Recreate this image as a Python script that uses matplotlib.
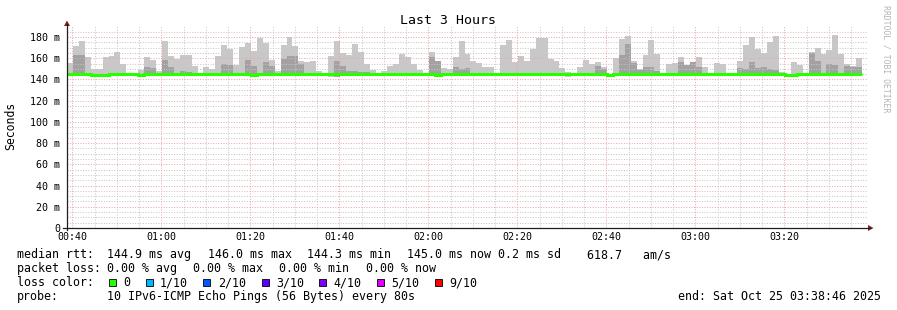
import numpy as np
import matplotlib
matplotlib.use('Agg')
import matplotlib.pyplot as plt
from matplotlib.lines import Line2D
from matplotlib.patches import Polygon, Rectangle

W, H = 897, 310
nan = np.nan

# ---------------- data ----------------
start_min = 38 + 46 / 60          # 00:38:46
step_min = 80 / 60                # 80 s steps
span_min = 180

rtt_max = [155.5, 171.5, 176, 161, 150, 150, 161, 162, 165.6, 155,
           145.5, 145.5, 148.8, 161, 158, 147.8, 176, 161.7, 159, 163.4,
           163.4, 152.5, 145.5, 151.5, 150, 161.7, 172, 168.5, 153.5, 171,
           174.6, 166.8, 179.5, 174.6, 158.3, 148, 172, 180.3, 171.5, 157.5,
           156.5, 157.4, 147.6, 145.5, 162, 176.2, 165, 163, 173.4, 165.9,
           155, 149, 145.5, 148, 152.5, 154.4, 164, 161, 155, 149,
           145.5, 165.9, 157.4, 151, 150, 161, 176, 164, 157.4, 155.5,
           151.6, 151.6, 145.5, 172.4, 177, 156.5, 162, 157.4, 168.6, 178.7,
           178.7, 159.5, 157.4, 151, 147.3, 145.5, 151.6, 158.3, 155, 156.5,
           151.6, 145.5, 160, 178, 181, 157, 150, 163, 177, 164,
           145.5, 155, 155.5, 161, 154, 156.5, 161, 152, 145.5, 155.5,
           155, 145.5, 145.5, 157.4, 172.4, 180, 168.6, 165, 175.5, 181,
           147.3, 145.5, 156.5, 154, 145.5, 165.9, 169.5, 164, 167.6, 182,
           164, 154.4, 152.5, 160]

rtt_dark = [nan, 163, 163, nan, nan, nan, nan, nan, nan, nan,
            nan, nan, nan, 152, 150.5, nan, 158.3, 151.5, nan, 148,
            147, nan, nan, nan, nan, nan, 154.5, 153.5, nan, nan,
            158.3, 152.4, nan, 156.5, 152.4, nan, 159, 162, 162, 155,
            nan, nan, nan, nan, nan, 157.4, 152.5, 148, 148, 147,
            147, nan, nan, nan, nan, nan, nan, nan, nan, nan,
            nan, 161.5, 157.4, nan, nan, 152, 150, 151, nan, nan,
            nan, nan, nan, nan, nan, nan, nan, nan, nan, nan,
            nan, nan, nan, nan, nan, nan, nan, nan, nan, 153,
            150, nan, nan, 163, 173.4, 155.2, 149, 152, 152, 148,
            nan, nan, nan, 156.5, 154, 156.5, 151.5, nan, nan, nan,
            nan, nan, nan, 151, 150, 156.5, 151, 152, 150, 149,
            nan, nan, nan, nan, nan, 165, 157.4, nan, 155, 154,
            nan, 153, 152, 152]

rtt_min = [143.6, 143.6, 143.6, 143.6, 143.6, 143.6, 143.6, 143.6, 143.6, 143.6,
           143.6, 143.6, 142.9, 143.6, 143.6, 143.6, 143.6, 142.8, 142.8, 143.6,
           143.6, 143.6, 143.6, 143.6, 143.6, 143.6, 143.6, 143.6, 143.6, 143.6,
           143.6, 143.6, 143.6, 143.6, 143.6, 143.6, 143.6, 143.6, 143.6, 143.6,
           143.6, 143.6, 143.6, 143.6, 142.6, 142.6, 143.6, 143.6, 143.6, 143.6,
           143.6, 143.6, 143.6, 143.6, 142.8, 142.8, 143.6, 143.6, 143.6, 143.6,
           143.6, 143.6, 143.0, 143.6, 143.6, 143.6, 143.6, 143.6, 143.6, 142.8,
           143.6, 143.6, 143.6, 143.6, 143.6, 143.6, 143.6, 143.6, 143.6, 143.6,
           143.6, 143.6, 143.6, 143.6, 142.6, 143.6, 143.6, 143.6, 143.6, 143.6,
           143.6, 143.6, 143.6, 143.6, 143.6, 143.6, 143.6, 143.6, 143.6, 143.6,
           143.6, 143.6, 143.6, 143.6, 143.6, 143.6, 143.6, 143.6, 143.6, 142.8,
           142.8, 143.6, 143.6, 143.6, 143.6, 143.6, 143.6, 143.6, 143.6, 143.6,
           142.8, 143.6, 143.6, 143.6, 143.6, 143.6, 143.6, 143.6, 143.6, 143.6,
           143.6, 143.6, 143.6, 143.6]

rtt_median = [144.9, 145.6, 145.6, 144.9, 144.6, 144.6, 144.6, 144.9, 144.9, 144.9,
              144.9, 144.9, 144.6, 144.9, 144.9, 144.9, 144.9, 144.9, 144.9, 144.9,
              144.9, 144.9, 144.9, 144.9, 144.9, 144.9, 144.9, 144.9, 144.9, 144.9,
              144.9, 144.6, 144.9, 144.9, 144.9, 144.9, 144.9, 144.9, 144.9, 144.9,
              144.9, 144.9, 144.9, 144.9, 144.9, 144.9, 144.9, 144.9, 144.9, 144.9,
              144.9, 144.9, 144.9, 144.9, 144.9, 144.9, 144.9, 144.9, 144.9, 144.9,
              144.9, 144.9, 144.6, 144.9, 144.9, 144.9, 144.9, 144.9, 144.9, 144.9,
              144.9, 144.9, 144.9, 144.9, 144.9, 144.9, 144.9, 144.9, 144.9, 144.9,
              144.9, 144.9, 144.9, 144.9, 144.9, 144.9, 144.9, 144.9, 144.9, 144.9,
              144.9, 144.6, 144.9, 144.9, 144.9, 144.9, 144.9, 144.9, 144.9, 144.9,
              144.9, 144.9, 144.9, 144.9, 144.9, 144.9, 144.9, 144.9, 144.9, 144.9,
              144.9, 144.9, 144.9, 144.9, 144.9, 144.9, 144.9, 144.9, 144.9, 144.9,
              144.9, 144.6, 144.6, 144.9, 144.9, 144.9, 144.9, 144.9, 144.9, 144.9,
              144.9, 144.9, 144.9, 145.0]

y_ticks = [0, 20, 40, 60, 80, 100, 120, 140, 160, 180]
y_tick_labels = ['0', '20 m', '40 m', '60 m', '80 m', '100 m', '120 m',
                 '140 m', '160 m', '180 m']
x_ticks = [40, 60, 80, 100, 120, 140, 160, 180, 200]
x_tick_labels = ['00:40', '01:00', '01:20', '01:40', '02:00', '02:20',
                 '02:40', '03:00', '03:20']

legend_rows = [
    [(16.7, 'median rtt:'), (107.3, '144.9 ms avg'), (208.3, '146.0 ms max'),
     (307.3, '144.3 ms min'), (407.3, '145.0 ms now'), (498.3, '0.2 ms sd'),
     (586.7, '618.7   am/s')],
    [(16.7, 'packet loss:'), (107.3, '0.00 % avg'), (193.3, '0.00 % max'),
     (279.3, '0.00 % min'), (365.7, '0.00 % now')],
]
loss_labels = ['0', '1/10', '2/10', '3/10', '4/10', '5/10', '9/10']
loss_colors = ['#26ff00', '#00b8ff', '#0059ff', '#5e00ff', '#7e00ff', '#dd00ff', '#ff0000']
loss_box_x = [109, 145.7, 203.3, 261.7, 319.3, 377.3, 435]
loss_text_x = [123.3, 160, 218.3, 276.7, 333.3, 391.7, 449.5]

# ---------------- figure ----------------
MONO = 'DejaVu Sans Mono'
fig = plt.figure(figsize=(W / 100, H / 100), dpi=100)
fig.patch.set_facecolor('white')

ax_left, ax_right, ax_bot, ax_top = 67, 868, 228, 26.4
ax = fig.add_axes([ax_left / W, 1 - ax_bot / H, (ax_right - ax_left) / W,
                   (ax_bot - ax_top) / H])
ax.set_facecolor('white')
ax.set_xlim(start_min, start_min + span_min)
ax.set_ylim(0, 190)
for s in ax.spines.values():
    s.set_visible(False)

n = len(rtt_max)
edges = start_min + step_min * np.arange(n + 1)
lo = np.array(rtt_min, dtype=float)
hi = np.array(rtt_max, dtype=float)
dk = np.array(rtt_dark, dtype=float)
dk = np.where(np.isnan(dk), lo, dk)   # no inner band -> zero height

ax.stairs(hi, edges, baseline=lo, fill=True, color='#c8c8c8', lw=0,
          antialiased=False, zorder=2)
ax.stairs(dk, edges, baseline=lo, fill=True, color='#a2a2a2', lw=0,
          antialiased=False, zorder=2.1)

# grid (dotted, drawn over the smoke, like rrdtool)
minor_c = '#c6c6c6'
major_c = '#efa4a4'
gkw = dict(lw=0.72, ls=(0, (1, 1.6)), antialiased=True)
for v in range(5, 190, 5):
    if v % 20 == 0:
        continue
    ax.axhline(v, color=minor_c, zorder=2.5, **gkw)
for v in y_ticks[1:]:
    ax.axhline(v, color=major_c, zorder=2.6, **gkw)
for m in range(40, 220, 5):
    if m % 20 == 0:
        continue
    ax.axvline(m, color=minor_c, zorder=2.5, **gkw)
for m in x_ticks:
    ax.axvline(m, color=major_c, zorder=2.6, **gkw)

ax.stairs(rtt_median, edges, baseline=None, color='#26ff00', lw=2.2, zorder=3)

ax.set_yticks(y_ticks)
ax.set_yticklabels(y_tick_labels, family=MONO, fontsize=7.2)
ax.set_xticks(x_ticks)
ax.set_xticklabels(x_tick_labels, family=MONO, fontsize=7.2)
ax.tick_params(axis='y', length=0, pad=5.0)
ax.tick_params(axis='x', length=0, pad=3.0)


def P(x, y):
    return (x / W, 1 - y / H)


axis_c = '#1f1f1f'
arrow_c = '#801f1f'
fig.add_artist(Line2D([67 / W, 67 / W], [1 - 230 / H, 1 - 24 / H],
                      transform=fig.transFigure, color=axis_c, lw=0.9))
fig.add_artist(Line2D([63 / W, 870 / W], [1 - 228 / H, 1 - 228 / H],
                      transform=fig.transFigure, color=axis_c, lw=0.9))
fig.add_artist(Polygon([P(64, 26), P(70, 26), P(67, 20.5)], closed=True,
                       transform=fig.transFigure, color=arrow_c, lw=0))
fig.add_artist(Polygon([P(868, 225), P(868, 231), P(873.5, 228)], closed=True,
                       transform=fig.transFigure, color=arrow_c, lw=0))

# title, axis label, watermark
fig.text(448 / W, 1 - 23.5 / H, 'Last 3 Hours', ha='center', va='baseline',
         family=MONO, fontsize=9.5)
fig.text(11 / W, 1 - 126 / H, 'Seconds', ha='center', va='center',
         rotation=90, family=MONO, fontsize=8.3)
fig.text(886 / W, 1 - 59 / H, 'RRDTOOL / TOBI OETIKER', ha='center',
         va='center', rotation=270, family=MONO, fontsize=5.9, color='#b4b4b4')

# legend
FS = 8.34
baselines = [258, 272, 286, 300]
for row, yb in zip(legend_rows, baselines[:2]):
    for x, s in row:
        fig.text(x / W, 1 - yb / H, s, ha='left', va='baseline',
                 family=MONO, fontsize=FS)
fig.text(16.7 / W, 1 - baselines[2] / H, 'loss color:', ha='left',
         va='baseline', family=MONO, fontsize=FS)
for bx, tx, lab, col in zip(loss_box_x, loss_text_x, loss_labels, loss_colors):
    fig.add_artist(Rectangle(P(bx, 285.5), 7 / W, 7 / H,
                             transform=fig.transFigure, facecolor=col,
                             edgecolor='#000000', lw=0.6))
    fig.text(tx / W, 1 - baselines[2] / H, lab, ha='left', va='baseline',
             family=MONO, fontsize=FS)
fig.text(16.7 / W, 1 - baselines[3] / H, 'probe:', ha='left', va='baseline',
         family=MONO, fontsize=FS)
fig.text(107.3 / W, 1 - baselines[3] / H,
         '10 IPv6-ICMP Echo Pings (56 Bytes) every 80s', ha='left',
         va='baseline', family=MONO, fontsize=FS)
fig.text(678.3 / W, 1 - baselines[3] / H, 'end: Sat Oct 25 03:38:46 2025',
         ha='left', va='baseline', family=MONO, fontsize=FS)

fig.savefig('out.png', dpi=100, facecolor='white')
